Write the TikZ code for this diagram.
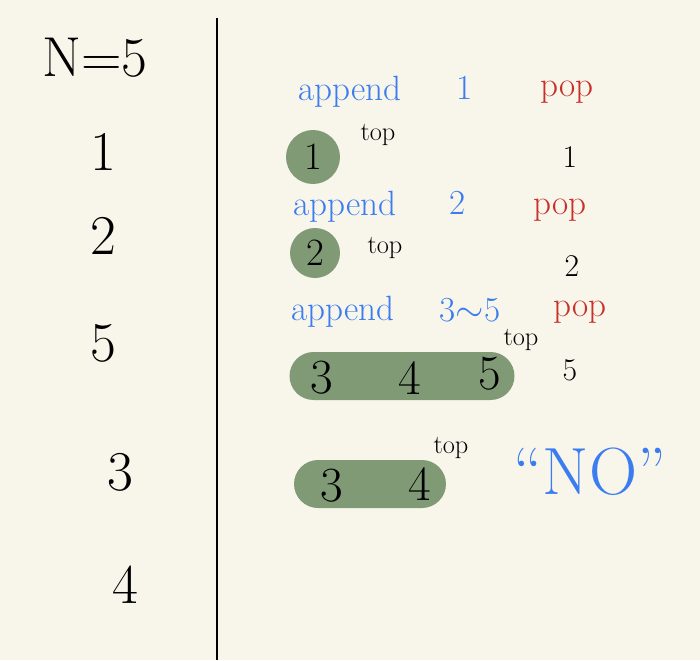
\documentclass[tikz,border=0pt]{standalone}
\usepackage{tikz}
\usetikzlibrary{positioning}
\definecolor{paper}{HTML}{F8F6EB}
\definecolor{stackgreen}{HTML}{7F9A75}
\definecolor{penblue}{HTML}{3B7CF0}
\definecolor{penred}{HTML}{C8302A}
\tikzset{
  seq/.style={font=\fontsize{32}{34}\selectfont}, % the input sequence on the left
  op/.style={text=penblue, font=\fontsize{20}{22}\selectfont}, % append steps
  popop/.style={text=penred, font=\fontsize{20}{22}\selectfont, inner sep=1pt}, % pop steps
  toplabel/.style={font=\fontsize{15}{17}\selectfont, inner sep=0pt}, % marks the top of the stack
  popped/.style={font=\fontsize{18}{20}\selectfont, inner sep=1pt}, % popped values
  cell/.style={font=\fontsize{28}{30}\selectfont}, % values inside the stack
  onecell/.style={circle, fill=stackgreen, font=\fontsize{22}{24}\selectfont, inner sep=0pt},
  stackbox/.style={rectangle, fill=stackgreen, minimum height=0.96cm, rounded corners=0.48cm},
}
\begin{document}
\begin{tikzpicture}[x=0.02cm, y=-0.02cm]
    \fill[paper] (0,0) rectangle (700,660);
    \useasboundingbox (0,0) rectangle (700,660);

    % divider
    \coordinate (divtop) at (217,18);
    \coordinate (divbot) at (217,660);
    \draw[line width=1.2pt] (divtop) -- (divbot);

    % input sequence
    \node[seq] (n) at (95,58) {N=5};
    \node[seq] (s1) at (103,152) {1};
    \node[seq] (s2) at (103,236) {2};
    \node[seq] (s5) at (103,343) {5};
    \node[seq] (s3) at (120,472) {3};
    \node[seq] (s4) at (125,585) {4};

    % step 1
    \node[op] (app1) at (350,92) {append};
    \node[op] (v1) at (465,88) {1};
    \node[popop] (pop1) at (567,92) {pop};
    \node[onecell, minimum size=1.08cm] (c1) at (313,157) {1};
    \node[toplabel] (top1) at (378,135) {top};
    \node[popped] (o1) at (570,157) {1};

    % step 2
    \node[op] (app2) at (345,207) {append};
    \node[op] (v2) at (458,203) {2};
    \node[popop] (pop2) at (560,210) {pop};
    \node[onecell, minimum size=1.0cm] (c2) at (315,253) {2};
    \node[toplabel] (top2) at (385,248) {top};
    \node[popped] (o2) at (572,266) {2};

    % step 3
    \node[op] (app3) at (343,312) {append};
    \node[op] (v3) at (470,310) {3$\sim$5};
    \node[popop] (pop3) at (580,312) {pop};
    \node[stackbox, minimum width=4.5cm] (st1) at (402,376) {};
    \node[cell] (a3) at (322,378) {3};
    \node[cell] (a4) at (410,378) {4};
    \node[cell] (a5) at (490,374) {5};
    \node[toplabel] (top3) at (521,340) {top};
    \node[popped] (o5) at (570,370) {5};

    % step 4
    \node[stackbox, minimum width=3.04cm] (st2) at (370,484) {};
    \node[cell] (b3) at (332,486) {3};
    \node[cell] (b4) at (420,484) {4};
    \node[toplabel] (top4) at (451,448) {top};
    \node[text=penblue, font=\fontsize{38}{40}\selectfont] (no) at (590,472) {``NO''};
\end{tikzpicture}
\end{document}
